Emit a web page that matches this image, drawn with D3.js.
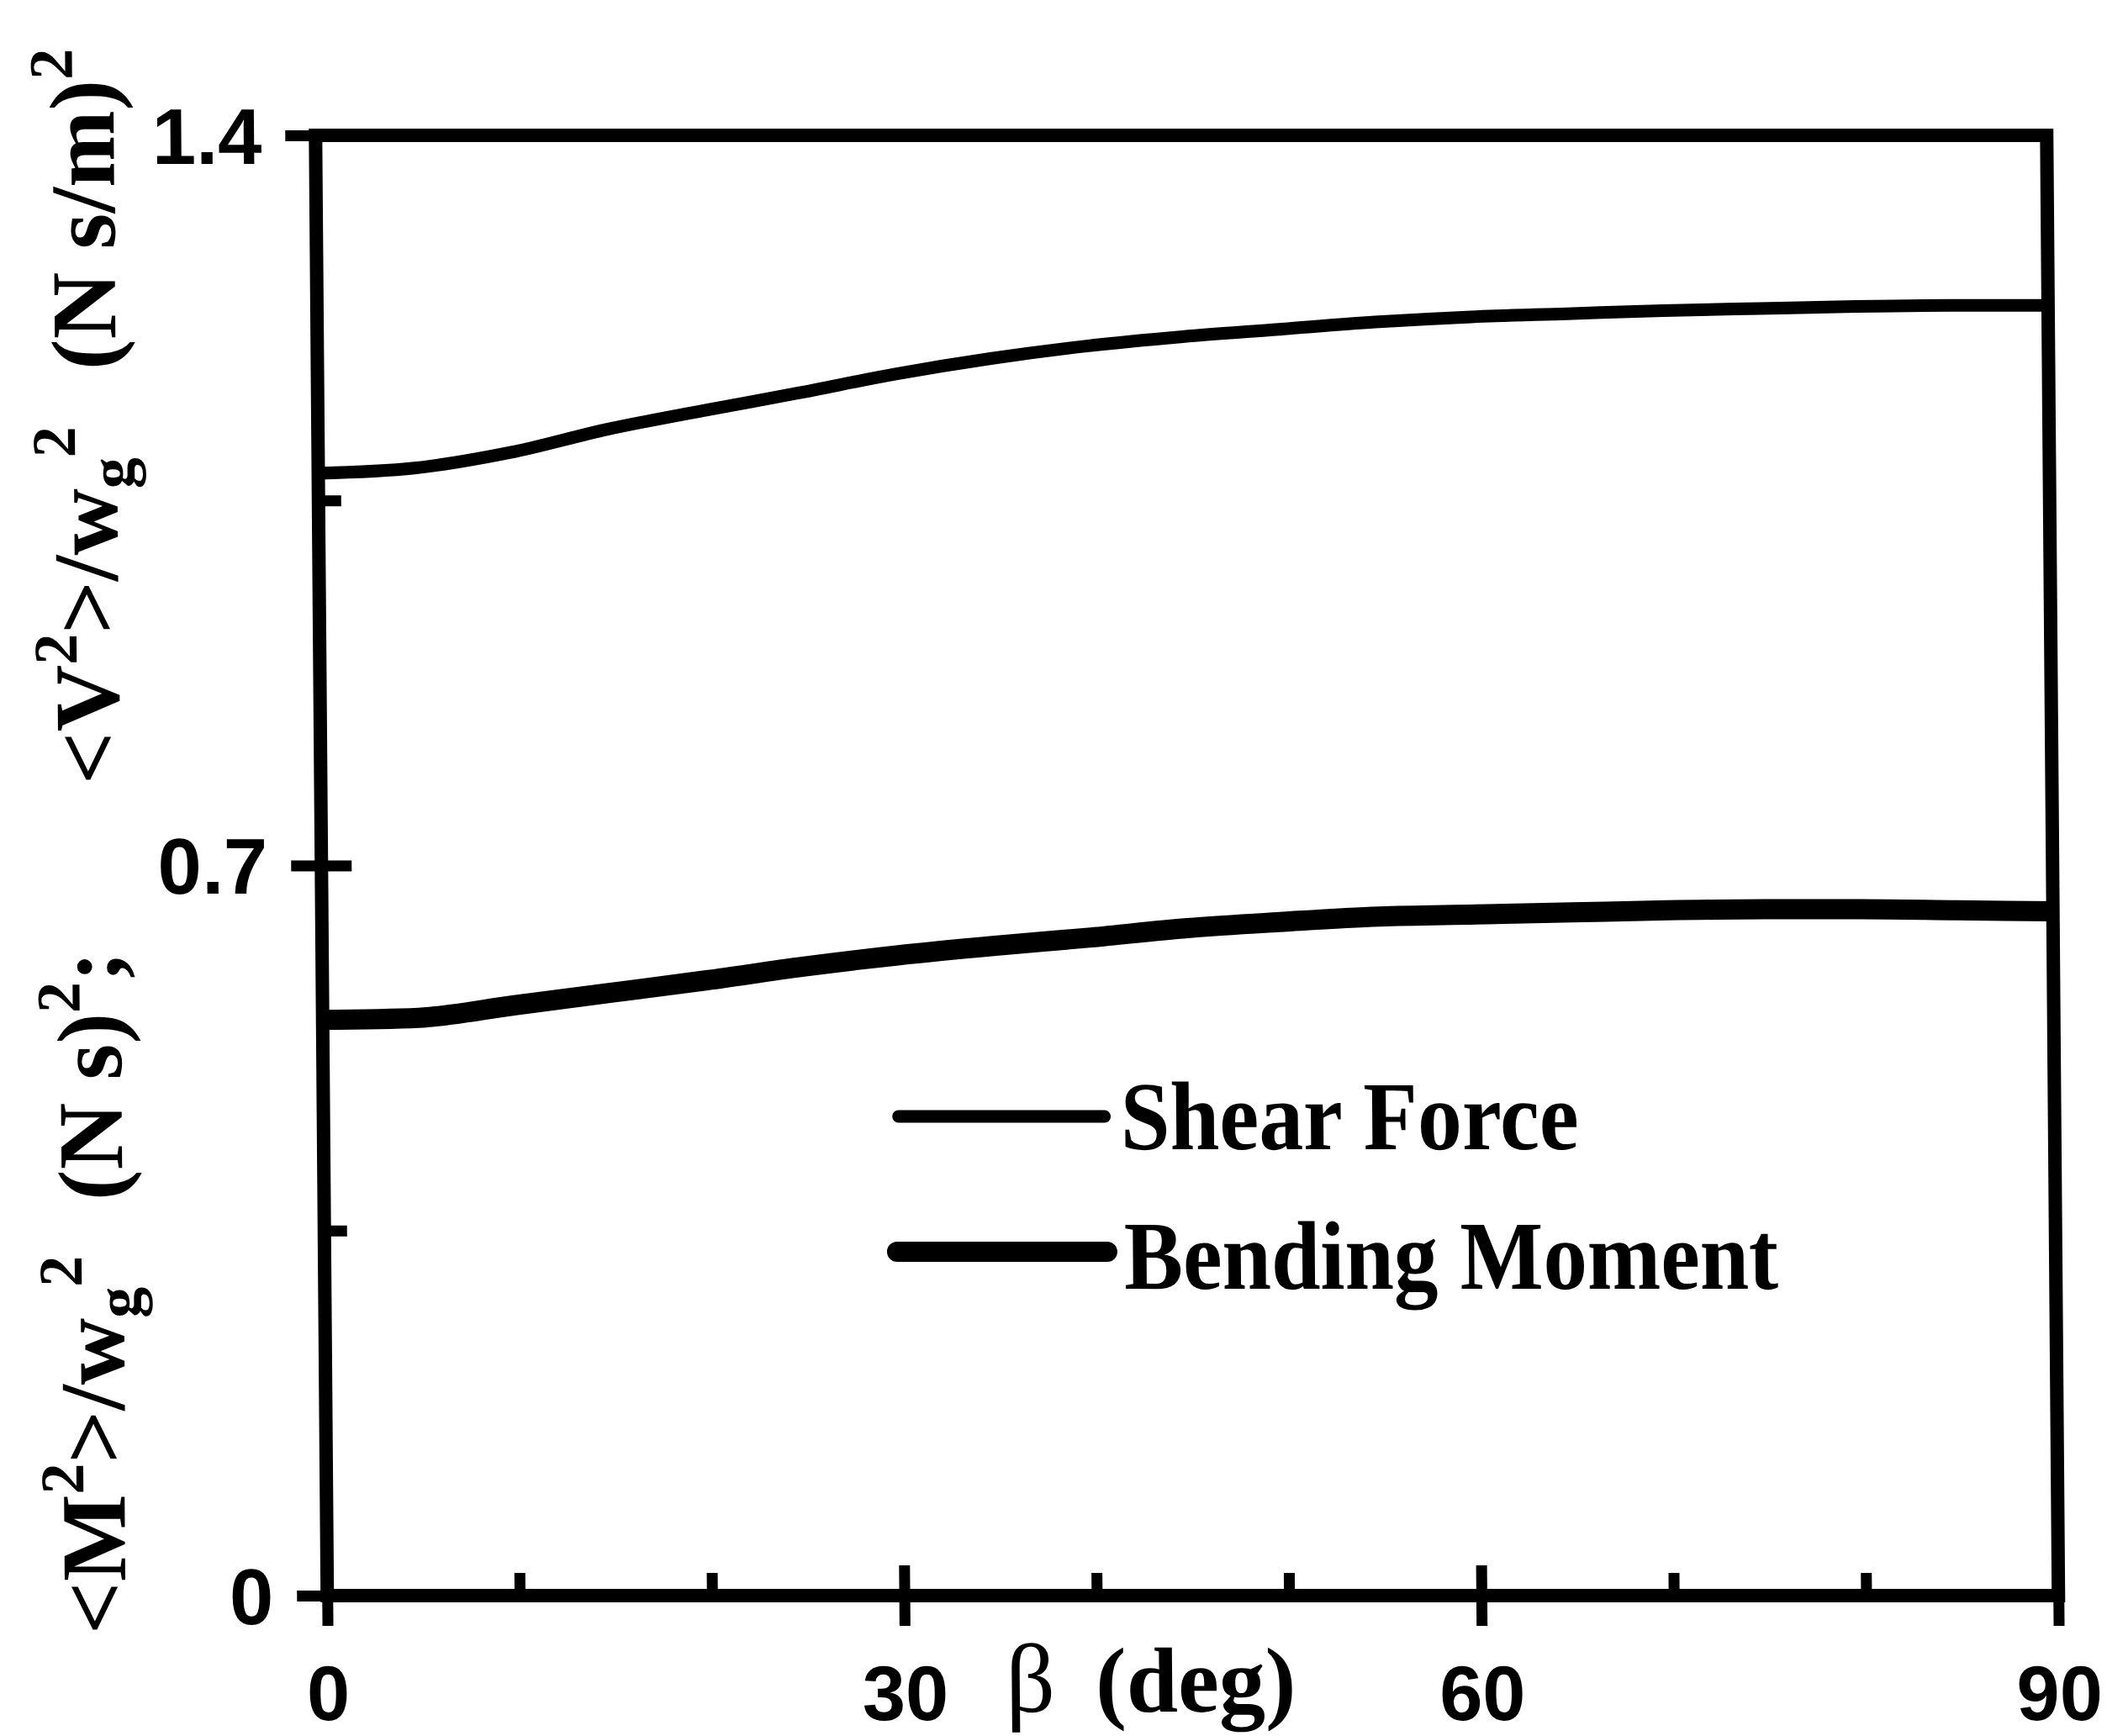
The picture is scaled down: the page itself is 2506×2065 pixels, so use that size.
<!DOCTYPE html>
<html>
<head>
<meta charset="utf-8">
<script src="https://cdn.jsdelivr.net/npm/d3@7"></script>
<style>
  html, body { margin: 0; padding: 0; background: #fff; }
  svg { display: block; }
</style>
</head>
<body>
<svg id="chart" width="2506" height="2065"></svg>
<script>
// Incidence angle beta (deg)
const beta = [0, 5, 10, 15, 20, 25, 30, 35, 40, 45, 50, 55, 60, 65, 70, 75, 80, 85, 90];
// <V^2>/w_g^2, (N s/m)^2
const shearForce = [1.076, 1.081, 1.096, 1.118, 1.136, 1.153, 1.171, 1.186, 1.198, 1.207,
                    1.214, 1.221, 1.226, 1.229, 1.232, 1.234, 1.236, 1.237, 1.237];
// <M^2>/w_g^2, (N s)^2
const bendingMoment = [0.552, 0.554, 0.566, 0.578, 0.590, 0.603, 0.614, 0.623, 0.631, 0.640,
                       0.646, 0.651, 0.653, 0.655, 0.657, 0.658, 0.658, 0.657, 0.656];

const xMajorTicks = [0, 30, 60, 90];
const xMinorTicks = [10, 20, 40, 50, 70, 80];
const yMajorTicks = [0, 0.7, 1.4];
const yMinorTicks = [0.35, 1.05];
const legendLabels = ["Shear Force", "Bending Moment"];

const svg = d3.select("#chart");
// whole figure leans very slightly, like the printed original
const root = svg.append("g").attr("transform", "skewX(0.46)");

const x = d3.scaleLinear().domain([0, 90]).range([374, 2433]);
const y = d3.scaleLinear().domain([0, 1.4]).range([1898, 161]);

const sans = "'Liberation Sans', Arial, sans-serif";
const serif = "'Liberation Serif', 'Times New Roman', serif";

// frame
root.append("rect")
  .attr("x", x(0)).attr("y", y(1.4))
  .attr("width", x(90) - x(0)).attr("height", y(0) - y(1.4))
  .attr("fill", "none").attr("stroke", "#000").attr("stroke-width", 16);

// x axis: major ticks cross the axis line
const gx = root.append("g").attr("transform", `translate(0,${y(0)})`)
  .call(d3.axisBottom(x).tickValues(xMajorTicks).tickSize(36).tickFormat(d3.format("d")));
gx.select(".domain").remove();
gx.selectAll(".tick line").attr("y1", -36).attr("stroke", "#000").attr("stroke-width", 13);
gx.selectAll(".tick text")
  .attr("y", 148).attr("dy", 0)
  .attr("fill", "#000")
  .style("font-family", sans).style("font-weight", "bold").style("font-size", "92px");

const gxMinor = root.append("g").attr("transform", `translate(0,${y(0)})`)
  .call(d3.axisBottom(x).tickValues(xMinorTicks).tickSize(-27).tickFormat(""));
gxMinor.select(".domain").remove();
gxMinor.selectAll(".tick line").attr("stroke", "#000").attr("stroke-width", 13);

// y axis
const gy = root.append("g").attr("transform", `translate(${x(0)},0)`)
  .call(d3.axisLeft(y).tickValues(yMajorTicks).tickSize(36).tickFormat(d => d === 0 ? "0" : d3.format(".1f")(d)));
gy.select(".domain").remove();
gy.selectAll(".tick line").attr("x1", 36).attr("stroke", "#000").attr("stroke-width", 13);
gy.selectAll(".tick text")
  .attr("x", -64).attr("y", 33).attr("dy", 0)
  .attr("text-anchor", "end").attr("fill", "#000")
  .style("font-family", sans).style("font-weight", "bold").style("font-size", "94px");

const gyMinor = root.append("g").attr("transform", `translate(${x(0)},0)`)
  .call(d3.axisLeft(y).tickValues(yMinorTicks).tickSize(-27).tickFormat(""));
gyMinor.select(".domain").remove();
gyMinor.selectAll(".tick line").attr("stroke", "#000").attr("stroke-width", 13);

// curves
const line = d3.line().x((d, i) => x(beta[i])).y(d => y(d)).curve(d3.curveMonotoneX);
root.append("path").datum(shearForce).attr("d", line)
  .attr("fill", "none").attr("stroke", "#000").attr("stroke-width", 15);
root.append("path").datum(bendingMoment).attr("d", line)
  .attr("fill", "none").attr("stroke", "#000").attr("stroke-width", 24);

// legend
const legend = [
  { label: legendLabels[0], width: 15, x1: 1058, x2: 1303, ly: 1328, tx: 1322, ty: 1367, len: 545 },
  { label: legendLabels[1], width: 24, x1: 1055, x2: 1305, ly: 1489, tx: 1325, ty: 1533, len: 778 }
];
const lg = root.append("g");
lg.selectAll("line").data(legend).join("line")
  .attr("x1", d => d.x1).attr("x2", d => d.x2)
  .attr("y1", d => d.ly).attr("y2", d => d.ly)
  .attr("stroke", "#000").attr("stroke-width", d => d.width).attr("stroke-linecap", "round");
lg.selectAll("text").data(legend).join("text")
  .attr("x", d => d.tx).attr("y", d => d.ty)
  .attr("textLength", d => d.len).attr("lengthAdjust", "spacingAndGlyphs")
  .style("font-family", serif).style("font-weight", "bold").style("font-size", "116px")
  .attr("fill", "#000")
  .text(d => d.label);

// x axis title
const xt = root.append("text").attr("x", 1180).attr("y", 2036).attr("fill", "#000")
  .style("font-family", serif).style("font-size", "110px");
xt.append("tspan").style("font-weight", "normal").style("font-size", "116px").text("β");
xt.append("tspan").attr("x", 1287).style("font-weight", "bold").text("(deg)");

// y axis title, reading bottom to top
const SUP = -49, SUB = 19;
const yTitle = root.append("text")
  .attr("transform", "translate(134,0) rotate(-90)")
  .attr("fill", "#000")
  .style("font-family", serif).style("font-weight", "bold").style("font-size", "110px");

let shift = 0;   // current baseline offset, carried across groups
function addGroup(startX, parts) {
  parts.forEach((p, i) => {
    const target = p.k === "sup" ? SUP : p.k === "sub" ? SUB : 0;
    const t = yTitle.append("tspan").attr("dy", target - shift).text(p.t);
    if (i === 0) t.attr("x", startX);
    if (p.k) t.style("font-size", "74px");
    shift = target;
  });
}
addGroup(-1944, [{ t: "<M" }, { t: "2", k: "sup" }, { t: ">/w" }, { t: "g", k: "sub" }, { t: "2", k: "sup" }]);
addGroup(-1428, [{ t: "(N s)" }, { t: "2", k: "sup" }, { t: ";" }]);
addGroup(-933,  [{ t: "<V" }, { t: "2", k: "sup" }, { t: ">/w" }, { t: "g", k: "sub" }, { t: "2", k: "sup" }]);
addGroup(-440,  [{ t: "(N s/m)" }, { t: "2", k: "sup" }]);
</script>
</body>
</html>
